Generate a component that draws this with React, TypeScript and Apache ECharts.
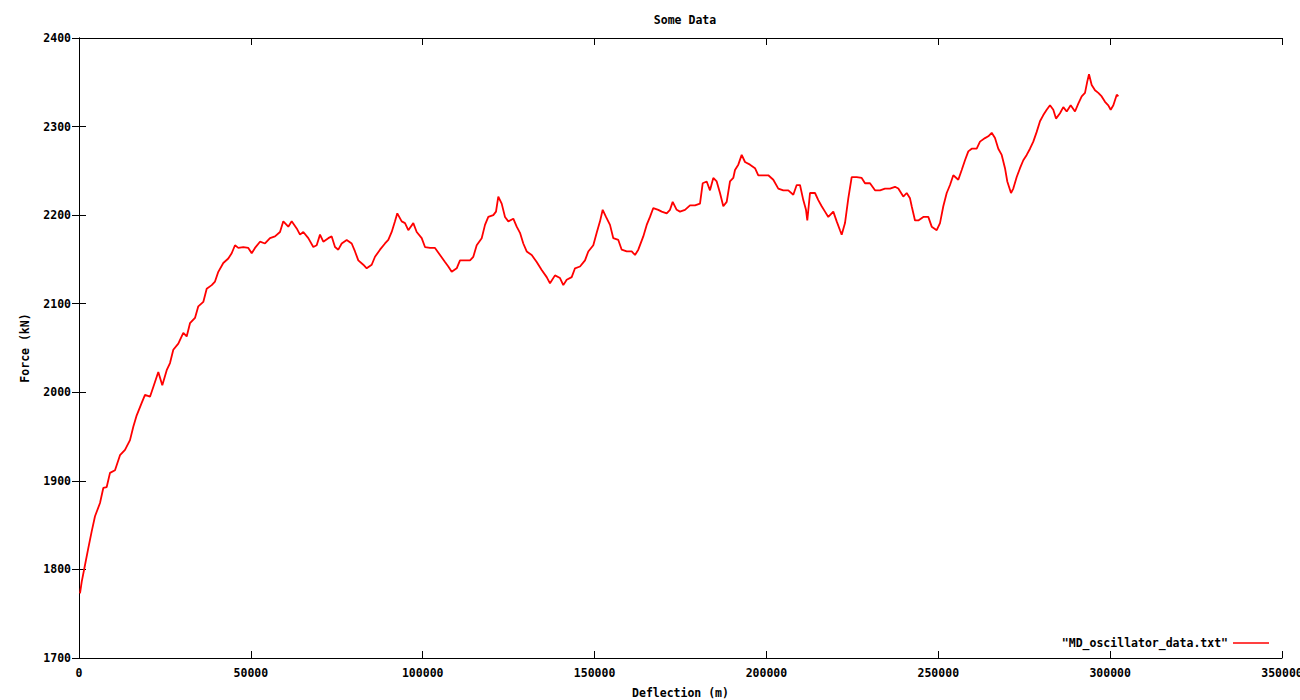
import React, { useEffect, useRef } from "react";
import * as echarts from "echarts";

const titleText = "Some Data";
const xAxisName = "Deflection (m)";
const yAxisName = "Force (kN)";
const seriesName = '"MD_oscillator_data.txt"';

const deflection = [
  291, 786, 1746, 2706, 3695, 4655, 6110, 7070, 8059, 9019, 10474, 11929, 13383, 14838, 15798, 16787,
  18242, 19202, 20657, 21617, 23072, 24235, 25516, 26476, 27436, 28891, 30345, 31334, 32294, 33749,
  34709, 36164, 37153, 38608, 39568, 40528, 41983, 43438, 44427, 45387, 46347, 47802, 49256, 50246,
  51205, 52660, 54115, 55570, 57024, 58479, 59439, 60894, 61883, 63338, 64298, 65258, 66713, 68167,
  69157, 70117, 71077, 72532, 73521, 74481, 75441, 76430, 77885, 79339, 80299, 81259, 82714, 83703,
  85158, 86118, 87573, 89028, 89988, 90977, 91937, 92606, 93886, 94846, 95806, 97261, 98250, 99705,
  100665, 102120, 103575, 105029, 106484, 107444, 108433, 109888, 110848, 112303, 113758, 114718,
  115707, 117162, 118122, 119082, 120536, 121322, 121991, 122980, 123940, 124900, 126355, 127344,
  128304, 129264, 130253, 131708, 133163, 134617, 136072, 137032, 138487, 139942, 140902, 141891,
  143346, 144306, 145761, 147216, 148176, 149630, 150619, 151579, 152365, 153325, 154489, 155449,
  156904, 157893, 159348, 160803, 161763, 162723, 164175, 165164, 166124, 167084, 168539, 169528,
  170983, 171943, 172728, 173892, 174852, 176307, 177762, 179216, 180671, 181457, 182621, 183581,
  184541, 185530, 186490, 187450, 188439, 189399, 190359, 190856, 191816, 192805, 193765, 195220,
  196675, 197634, 199089, 200544, 201999, 203454, 204908, 206363, 207818, 208807, 209767, 210727,
  211512, 211890, 212676, 214131, 215091, 216080, 217040, 218000, 219455, 220444, 221404, 221899,
  222859, 223819, 224808, 226263, 227718, 228678, 230133, 231588, 233043, 234497, 235952, 237407,
  238367, 239822, 240811, 241771, 242266, 243226, 244186, 245641, 247096, 248085, 249540, 250499,
  251459, 252449, 253409, 254369, 255823, 256813, 257772, 258732, 259722, 261176, 262136, 263591,
  264551, 265540, 266500, 267460, 268449, 269409, 270078, 271156, 271825, 272814, 273774, 274734,
  275723, 276683, 277643, 278633, 279593, 280553, 281542, 282502, 283462, 284248, 285411, 286371,
  287360, 288524, 289776, 290735, 291725, 292685, 293354, 293849, 294634, 295594, 296554, 297543,
  298503, 299463, 300161, 300933, 301428, 301922, 302386,
];

const force = [
  1773, 1786, 1805, 1824, 1843, 1860, 1875, 1892, 1893, 1909, 1912, 1929, 1935, 1946, 1961, 1974,
  1988, 1997, 1995, 2006, 2023, 2008, 2025, 2033, 2048, 2055, 2067, 2063, 2078, 2084,
  2097, 2102, 2117, 2121, 2125, 2136, 2146, 2151, 2157, 2166, 2163, 2164, 2163, 2157,
  2163, 2170, 2168, 2174, 2176, 2181, 2193, 2187, 2193, 2185, 2178, 2181, 2174, 2164,
  2166, 2178, 2170, 2174, 2176, 2164, 2161, 2168, 2172, 2168, 2159, 2149, 2144, 2140,
  2144, 2153, 2161, 2168, 2172, 2181, 2193, 2202, 2193, 2191, 2183, 2191, 2181, 2174,
  2164, 2163, 2163, 2155, 2147, 2142, 2136, 2140, 2149, 2149, 2149, 2153,
  2166, 2174, 2189, 2198, 2200, 2204, 2221, 2213, 2198, 2193, 2196, 2187,
  2180, 2168, 2159, 2155, 2147, 2138, 2130, 2123, 2132, 2129, 2121, 2127,
  2130, 2140, 2142, 2149, 2159, 2166, 2180, 2193, 2206, 2198, 2189, 2174,
  2172, 2161, 2159, 2159, 2155, 2161, 2176, 2189, 2198, 2208, 2206, 2204,
  2202, 2206, 2215, 2206, 2204, 2206, 2211, 2211, 2213, 2236, 2238, 2228,
  2242, 2238, 2225, 2210, 2215, 2238, 2242, 2251, 2257, 2268, 2260, 2257,
  2253, 2245, 2245, 2245, 2240, 2230, 2228, 2228, 2223, 2234, 2234, 2217,
  2206, 2194, 2225, 2225, 2217, 2210, 2204, 2198, 2204, 2193, 2183, 2178,
  2191, 2219, 2243, 2243, 2242, 2236, 2236, 2228, 2228, 2230, 2230, 2232,
  2230, 2221, 2225, 2219, 2210, 2194, 2194, 2198, 2198, 2187, 2183, 2191,
  2210, 2225, 2234, 2245, 2240, 2251, 2262, 2272, 2275, 2275, 2283, 2287,
  2289, 2293, 2287, 2275, 2268, 2253, 2238, 2225, 2230, 2243, 2253, 2262,
  2268, 2275, 2283, 2294, 2306, 2313, 2319, 2324, 2319, 2309, 2315, 2322,
  2317, 2324, 2317, 2326, 2334, 2338, 2351, 2359, 2347, 2341, 2338, 2334,
  2328, 2324, 2319, 2324, 2330, 2336, 2334,
];

const xMin = 0;
const xMax = 350000;
const xStep = 50000;
const yMin = 1700;
const yMax = 2400;
const yStep = 100;

const FONT = "'DejaVu Sans Mono', 'Liberation Mono', monospace";

export default function App() {
  const ref = useRef<HTMLDivElement>(null);

  useEffect(() => {
    if (!ref.current) return;
    const chart = echarts.init(ref.current, null, { renderer: "svg" });
    const txt = { fontFamily: FONT, fontSize: 11.5, fontWeight: "bold" as const, color: "#000" };
    const tick = { show: true, inside: true, length: 7, lineStyle: { color: "#000", width: 1 } };
    const line = { show: true, lineStyle: { color: "#000", width: 1 } };
    const data = deflection.map((d, i) => [d, force[i]]);
    const plain = (v: number) => String(v);

    chart.setOption({
      animation: false,
      backgroundColor: "#fff",
      title: {
        text: titleText,
        left: 680,
        textAlign: "center",
        top: 9,
        textStyle: { ...txt },
      },
      legend: {
        data: [{ name: seriesName, icon: "rect" }],
        right: 31,
        top: 637,
        padding: 0,
        align: "right",
        itemWidth: 36,
        itemHeight: 1.5,
        itemGap: 0,
        textStyle: { ...txt, padding: 0 },
      },
      grid: { left: 79, right: 18, top: 38, bottom: 42, show: false, outerBoundsMode: "none", containLabel: false },
      xAxis: [
        {
          type: "value",
          min: xMin,
          max: xMax,
          interval: xStep,
          position: "bottom",
          name: xAxisName,
          nameLocation: "middle",
          nameGap: 29,
          nameTextStyle: { ...txt },
          axisLine: line,
          axisTick: tick,
          axisLabel: { ...txt, margin: 9, formatter: plain, hideOverlap: false, showMaxLabel: true, showMinLabel: true },
          splitLine: { show: false },
        },
        {
          type: "value",
          min: xMin,
          max: xMax,
          interval: xStep,
          position: "top",
          axisLine: line,
          axisTick: tick,
          axisLabel: { show: false },
          splitLine: { show: false },
        },
      ],
      yAxis: [
        {
          type: "value",
          min: yMin,
          max: yMax,
          interval: yStep,
          position: "left",
          name: yAxisName,
          nameLocation: "middle",
          nameGap: 48,
          nameRotate: 90,
          nameTextStyle: { ...txt },
          axisLine: line,
          axisTick: tick,
          axisLabel: { ...txt, margin: 8, formatter: plain },
          splitLine: { show: false },
        },
        {
          type: "value",
          min: yMin,
          max: yMax,
          interval: yStep,
          position: "right",
          axisLine: line,
          axisTick: tick,
          axisLabel: { show: false },
          splitLine: { show: false },
        },
      ],
      series: [
        {
          name: seriesName,
          type: "line",
          data,
          showSymbol: false,
          symbol: "none",
          color: "#ff0000",
          lineStyle: { color: "#ff0000", width: 1.8 },
          itemStyle: { color: "#ff0000" },
        },
      ],
    });
    return () => chart.dispose();
  }, []);

  return (
    <div
      ref={ref}
      style={{ position: "absolute", left: 0, top: 0, width: 1300, height: 700, background: "#fff" }}
    />
  );
}
